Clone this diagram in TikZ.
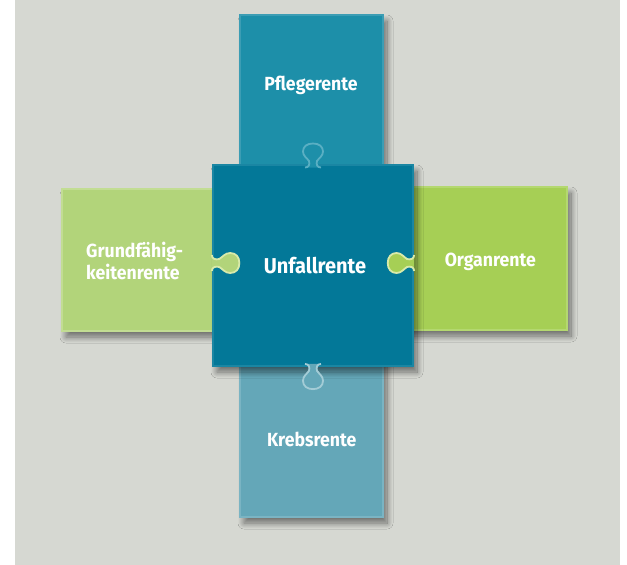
\documentclass[tikz,border=0pt]{standalone}
\usepackage{fontspec}
\setmainfont{Fira Sans}[FakeStretch=0.93]
\usetikzlibrary{shadows.blur}
\definecolor{bgc}{HTML}{D6D8D2}
\definecolor{topc}{HTML}{1D8FA9}
\definecolor{topb}{HTML}{3C9DB4}
\definecolor{cenc}{HTML}{037898}
\definecolor{cenb}{HTML}{1A86A3}
\definecolor{leftc}{HTML}{B2D47A}
\definecolor{leftb}{HTML}{C2DD93}
\definecolor{rightc}{HTML}{A6CF55}
\definecolor{rightb}{HTML}{B4D870}
\definecolor{botc}{HTML}{64A7B8}
\definecolor{botb}{HTML}{7AB4C3}
\definecolor{knobtop}{HTML}{5AAFC3}
\definecolor{knobbot}{HTML}{A3CCD6}
\definecolor{knobgreen}{HTML}{D8EAAA}
\newcommand\knobcurve{(-8,-1.5) .. controls (-4,-1.5) and (-3,2) .. (-4,5)
  .. controls (-6,8) and (-10,10) .. (-10,14.5)
  .. controls (-10,19.5) and (-6,22.5) .. (0,22.5)
  .. controls (6,22.5) and (10,19.5) .. (10,14.5)
  .. controls (10,10) and (6,8) .. (4,5)
  .. controls (3,2) and (4,-1.5) .. (8,-1.5)}
\newcommand\knob[5]{\begin{scope}[shift={#1},rotate=#2,yscale=#5]
  \fill[#3] \knobcurve -- cycle;
  \draw[#4,line width=1.8pt] \knobcurve;
\end{scope}}
\tikzset{
  piece/.style={rectangle, inner sep=0pt, line width=1.4pt,
    blur shadow={shadow xshift=4pt, shadow yshift=-6pt, shadow blur steps=12, shadow blur radius=6pt, shadow opacity=50}},
  label/.style={text=white, font=\fontsize{19}{22}\selectfont\bfseries, inner sep=0pt, anchor=base}
}
\begin{document}
\begin{tikzpicture}[x=1pt,y=-1pt]
\useasboundingbox (0,0) rectangle (627,565);
\fill[white] (0,0) rectangle (627,565);
\fill[bgc] (15,0) rectangle (620,565);
% outer pieces
\node[piece, fill=topc, draw=topb, minimum width=143pt, minimum height=170pt] (top) at (311.5,100) {};
\node[piece, fill=botc, draw=botb, minimum width=143pt, minimum height=167pt] (bot) at (311.5,433.5) {};
\node[piece, fill=leftc, draw=leftb, minimum width=163pt, minimum height=142pt] (left) at (143.5,260) {};
\node[piece, fill=rightc, draw=rightb, minimum width=167pt, minimum height=143pt] (right) at (483.5,258.5) {};
% centre piece
\node[piece, fill=cenc, draw=cenb, minimum width=200pt, minimum height=201pt] (cen) at (313,265.5) {};
% knobs
\knob{(313,166)}{180}{topc}{knobtop}{1}
\knob{(313,365.5)}{0}{botc}{knobbot}{1.05}
\knob{(213.5,263)}{90}{leftc}{knobgreen}{1.15}
\knob{(412.5,263)}{-90}{rightc}{knobgreen}{1.1}
% labels
\node[label] (tTop) at (311,90.7) {Pflegerente};
\node[label, font=\fontsize{21.5}{24}\selectfont\bfseries] (tCen) at (315,273.3) {Unfallrente};
\node[label, anchor=base west] (tLeft1) at (86,257) {Grundfähig-};
\node[label, anchor=base west] (tLeft2) at (86,279) {keitenrente};
\node[label] (tRight) at (490.3,266.3) {Organrente};
\node[label] (tBot) at (311.7,446) {Krebsrente};
\end{tikzpicture}
\end{document}
